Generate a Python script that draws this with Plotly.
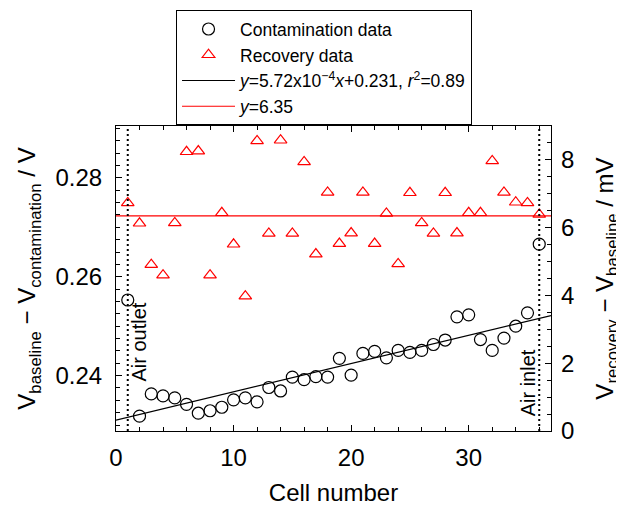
import plotly.graph_objects as go

# ---- data ----
cells = list(range(1, 37))
contamination = [0.2553, 0.2318, 0.2363, 0.2359, 0.2355, 0.2342, 0.2324, 0.2329, 0.2336, 0.2351,
                 0.2355, 0.2347, 0.2376, 0.2369, 0.2397, 0.2392, 0.2398, 0.2397, 0.2435, 0.2401,
                 0.2445, 0.2449, 0.2436, 0.2451, 0.2447, 0.2451, 0.2463, 0.2472, 0.2519, 0.2523,
                 0.2473, 0.2451, 0.2476, 0.2500, 0.2527, 0.2666]
recovery = [6.73, 6.13, 4.91, 4.60, 6.14, 8.24, 8.26, 4.60, 6.44, 5.51,
            3.98, 8.56, 5.83, 8.58, 5.83, 7.94, 5.22, 7.04, 5.53, 5.84,
            7.04, 5.53, 6.42, 4.93, 7.03, 6.14, 5.83, 7.03, 5.84, 6.44,
            6.44, 7.97, 7.04, 6.75, 6.73, 6.39]
fit_slope = 5.72e-4
fit_intercept = 0.231
recovery_mean = 6.35
x_range = [0, 37]
y_left_range = [0.2288, 0.2905]
y_right_range = [0, 9]
outlet_cell = 1
inlet_cell = 36

FONT = "Arial, Liberation Sans, sans-serif"

fig = go.Figure()

fig.add_trace(go.Scatter(
    x=cells, y=contamination, mode="markers", name="Contamination data",
    marker=dict(symbol="circle-open", size=12, color="black", line=dict(width=1.2, color="black")),
    yaxis="y"))
fig.add_trace(go.Scatter(
    x=cells, y=recovery, mode="markers", name="Recovery data",
    marker=dict(symbol="triangle-up-open", size=11, color="red", line=dict(width=1.2, color="red")),
    yaxis="y2"))
fit_x = x_range
fit_y = [fit_slope * v + fit_intercept for v in fit_x]
fig.add_trace(go.Scatter(
    x=fit_x, y=fit_y, mode="lines",
    name="<i>y</i>=5.72x10<sup>−4</sup><i>x</i>+0.231, <i>r</i><sup>2</sup>=0.89",
    line=dict(color="black", width=1.2), yaxis="y"))
fig.add_trace(go.Scatter(
    x=x_range, y=[recovery_mean, recovery_mean], mode="lines",
    name="<i>y</i>=6.35", line=dict(color="red", width=1.2), yaxis="y2"))

for c in (outlet_cell, inlet_cell):
    fig.add_shape(type="line", xref="x", yref="paper", x0=c, x1=c, y0=0, y1=1,
                  line=dict(color="black", width=2, dash="2px,3px"))

fig.add_annotation(x=outlet_cell + 1.0, y=0.2468, xref="x", yref="y", text="Air outlet",
                   textangle=-90, showarrow=False, font=dict(family=FONT, size=20, color="black"))
fig.add_annotation(x=inlet_cell - 0.93, y=0.2385, xref="x", yref="y", text="Air inlet",
                   textangle=-90, showarrow=False, font=dict(family=FONT, size=20, color="black"))

axis_common = dict(showline=True, linecolor="black", linewidth=1.2, ticks="inside",
                   ticklen=6, tickwidth=1, tickcolor="black", showgrid=False, zeroline=False,
                   tickfont=dict(family=FONT, size=24, color="black"))

# page body has an 8px offset; margins compensate so the plot lands where the reference has it
fig.update_layout(
    width=624, height=505,
    margin=dict(l=108, r=81, t=118, b=82, autoexpand=False),
    paper_bgcolor="white", plot_bgcolor="white",
    font=dict(family=FONT, size=19, color="black"),
    xaxis=dict(range=x_range, dtick=10, tick0=0, mirror="ticks", ticklabelstandoff=5,
               minor=dict(ticks="inside", dtick=2, ticklen=4, tickcolor="black"),
               title=dict(text="Cell number", font=dict(family=FONT, size=24), standoff=14),
               **axis_common),
    yaxis=dict(range=y_left_range, dtick=0.02, tick0=0, tickformat=".2f", ticklabelstandoff=8,
               minor=dict(ticks="inside", dtick=0.0025, ticklen=4, tickcolor="black"),
               title=dict(text="V<sub>baseline</sub> − V<sub>contamination</sub> / V",
                          font=dict(family=FONT, size=24), standoff=12),
               **axis_common),
    yaxis2=dict(range=y_right_range, dtick=2, overlaying="y", side="right", ticklabelstandoff=4,
                minor=dict(ticks="inside", dtick=0.5, ticklen=4, tickcolor="black"),
                title=dict(text="V<sub>recovery</sub> − V<sub>baseline</sub> / mV",
                           font=dict(family=FONT, size=24), standoff=22),
                **axis_common),
    legend=dict(x=0.138, y=1.38, xanchor="left", yanchor="top",
                bordercolor="black", borderwidth=1, bgcolor="white",
                font=dict(family=FONT, size=17.5, color="black"),
                itemwidth=53, tracegroupgap=0),
    showlegend=True,
)

fig.write_html("out.html")
